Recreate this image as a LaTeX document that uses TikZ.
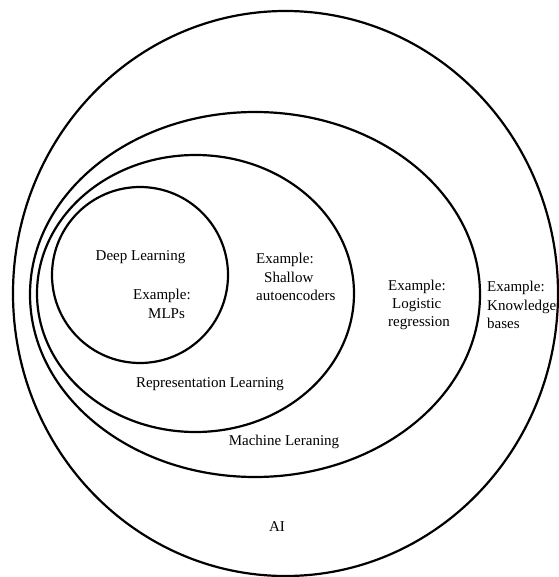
\documentclass[tikz,border=0pt]{standalone}
\usepackage{fontspec}
\setmainfont{Liberation Serif}
\usetikzlibrary{shapes.geometric}
\tikzset{
  ring/.style={draw=black, line width=2.2pt, ellipse, inner sep=0pt, outer sep=0pt},
  label/.style={inner sep=0pt, font=\fontsize{15}{18.3}\selectfont},
}
\begin{document}
\begin{tikzpicture}[x=1pt,y=-1pt]
  \useasboundingbox (0,0) rectangle (558,577);

  % nested sets
  \node[ring, minimum width=545pt, minimum height=565pt] (ai) at (285.5,293.5) {};
  \node[ring, minimum width=450pt, minimum height=365pt] (ml) at (255,294.5) {};
  \node[ring, minimum width=317pt, minimum height=277pt] (rl) at (195.5,293.5) {};
  \node[ring, minimum width=176pt, minimum height=176pt] (dl) at (140,275) {};

  % labels
  \node[label] (dltitle) at (140.5,257) {Deep Learning};
  \node[label, anchor=west, align=left] (dlex) at (133,304) {Example:\\\hspace*{15pt}MLPs};
  \node[label, anchor=west, align=left] (rlex) at (256,277) {Example:\\\hspace*{8pt}Shallow\\autoencoders};
  \node[label] (rltitle) at (210,384) {Representation Learning};
  \node[label, anchor=west, align=left] (mlex) at (388,305) {Example:\\\hspace*{4pt}Logistic\\regression};
  \node[label] (mltitle) at (284,442) {Machine Leraning};
  \node[label, anchor=west, align=left] (aiex) at (487,305) {Example:\\Knowledge\\bases};
  \node[label] (aititle) at (277,527) {AI};
\end{tikzpicture}
\end{document}
